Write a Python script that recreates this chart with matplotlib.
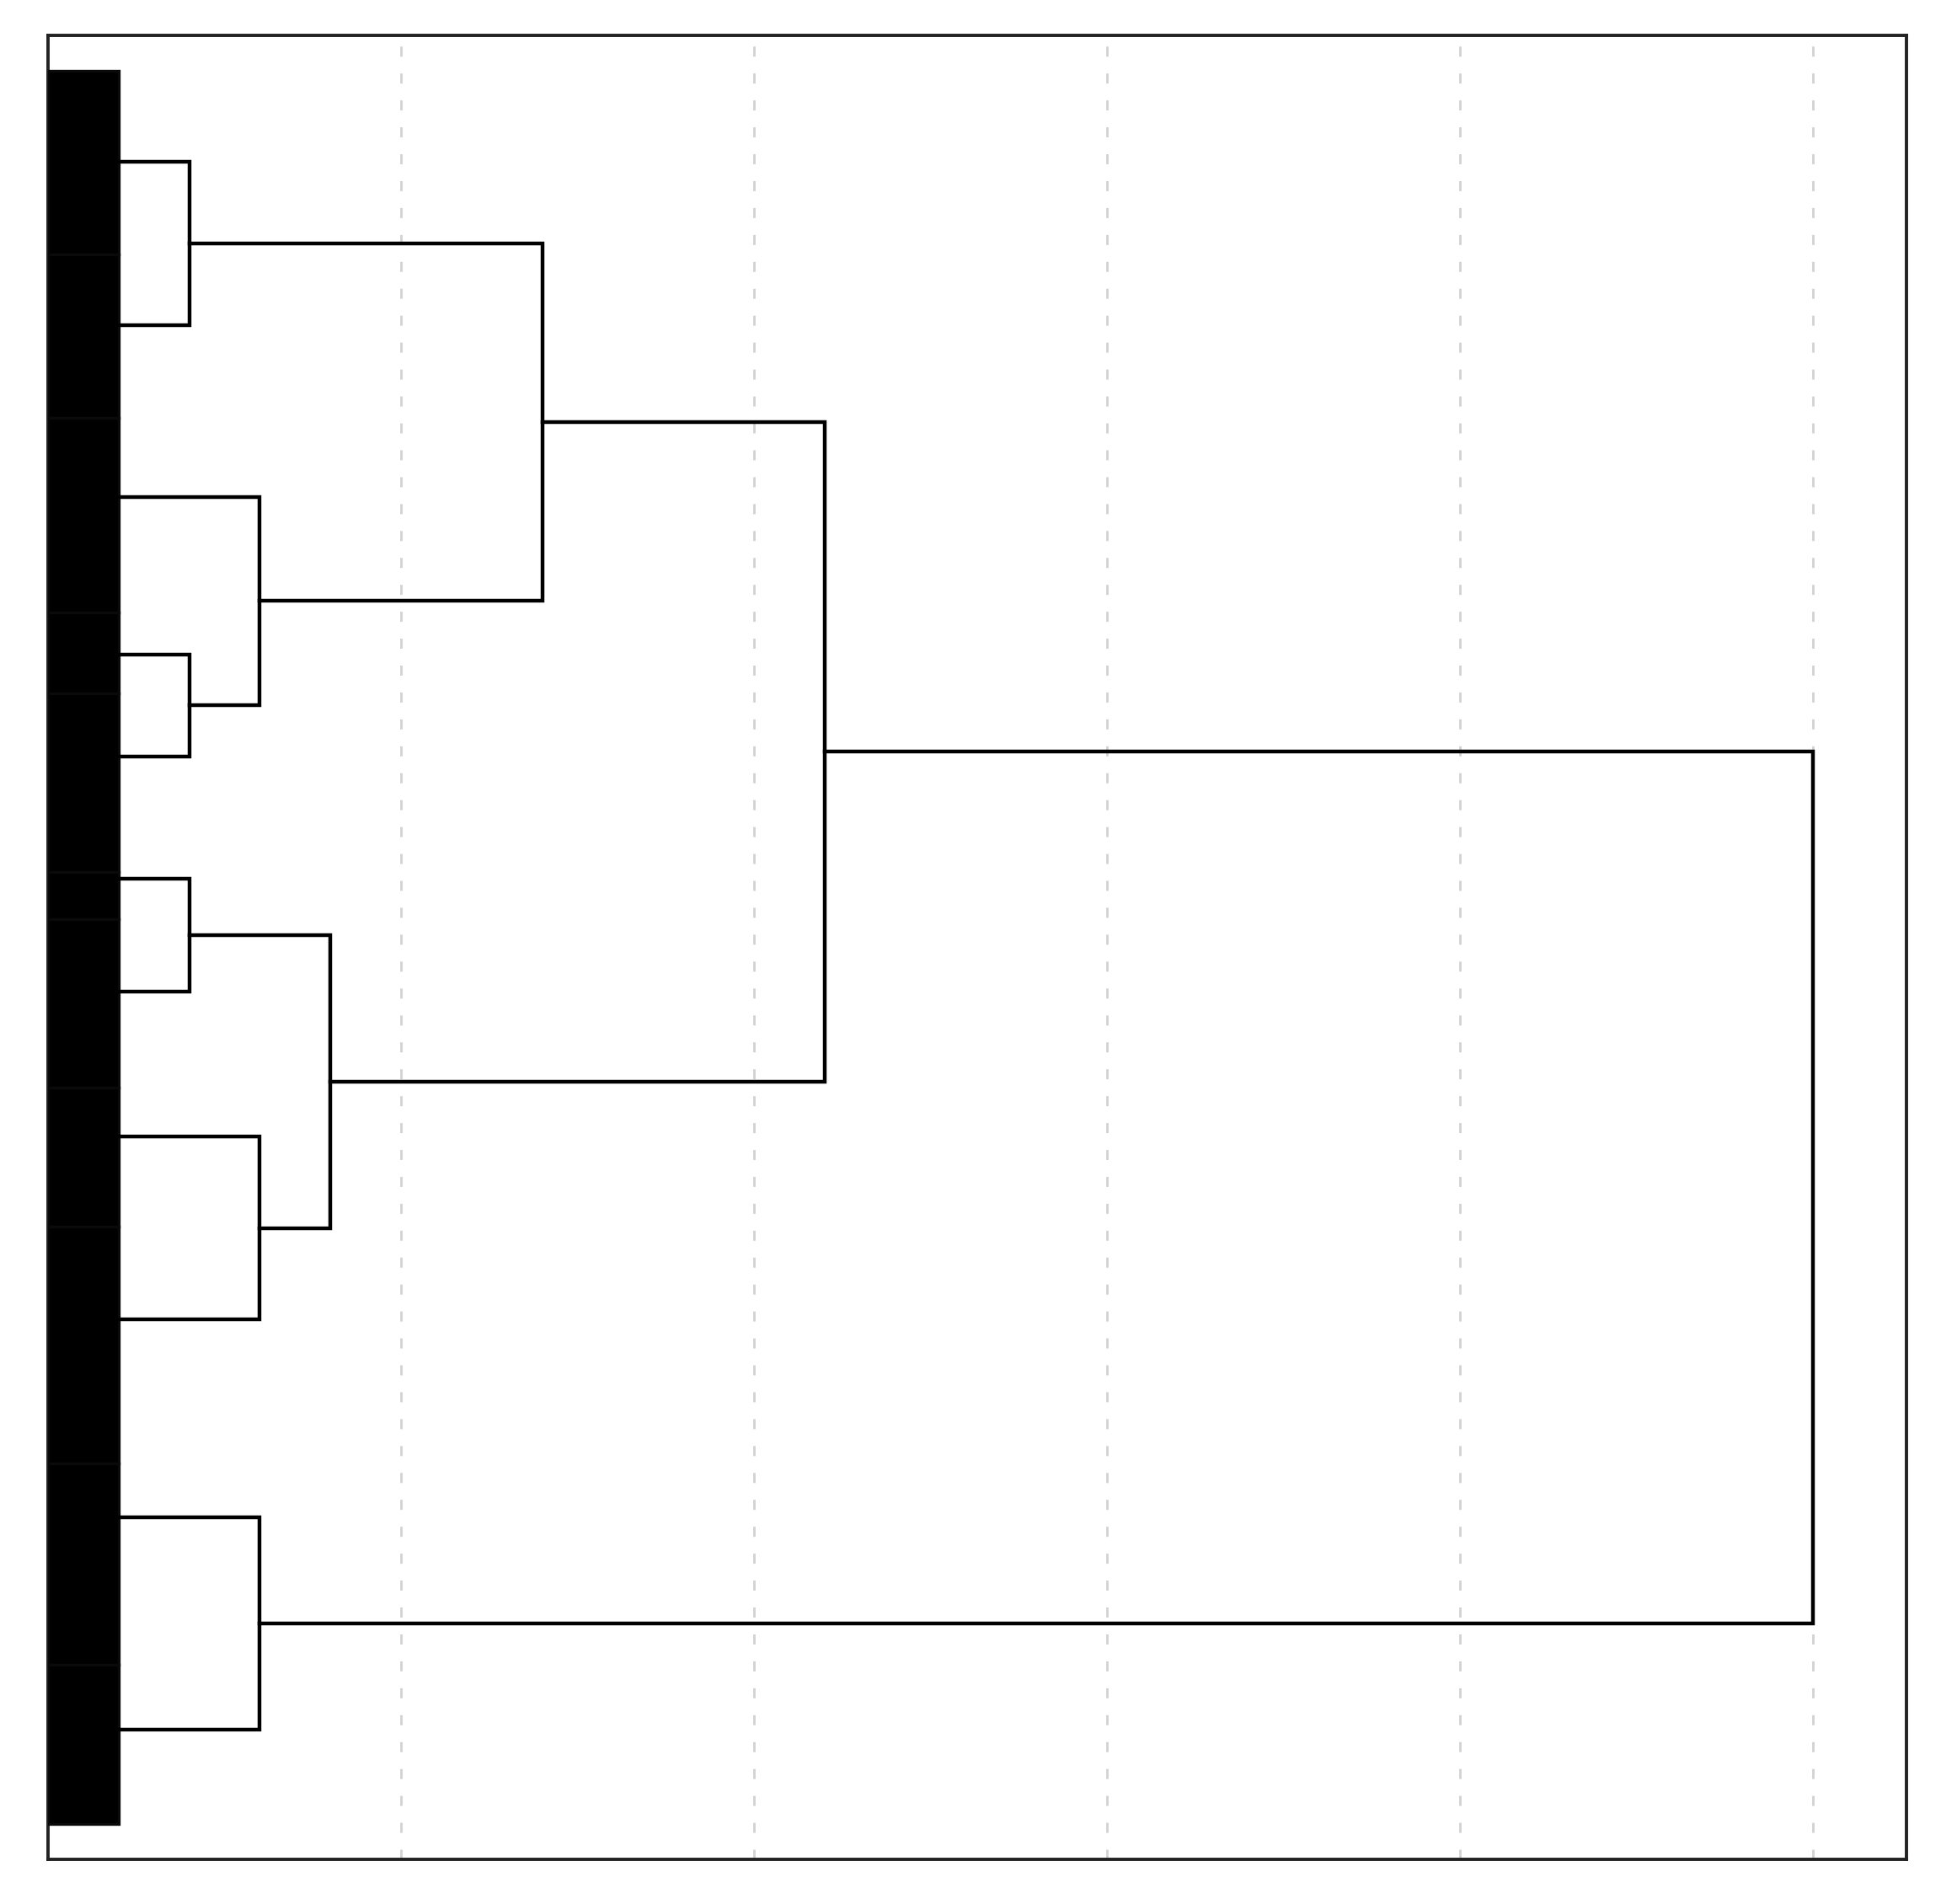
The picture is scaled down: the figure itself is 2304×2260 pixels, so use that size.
import matplotlib
matplotlib.use("Agg")
from matplotlib import pyplot as plt
import numpy as np

# leaf clusters (top to bottom), y in row units, heights in linkage distance
leaf_y = [5.2, 14.5, 24.3, 33.3, 39.1, 46.1, 52.5, 60.8, 71.2, 82.5, 94.6]
block_edges = [0, 10.5, 19.8, 30.9, 35.5, 45.7, 48.4, 58.0, 65.9, 79.4, 90.9, 100]
leaf_height = 0.2

# merges: (child a, child b, height); new nodes numbered after the leaves
merges = [
    (0, 1, 0.4),
    (3, 4, 0.4),
    (2, 12, 0.6),
    (11, 13, 1.4),
    (5, 6, 0.4),
    (7, 8, 0.6),
    (15, 16, 0.8),
    (14, 17, 2.2),
    (9, 10, 0.6),
    (18, 19, 5.0),
]

grid_ticks = [1, 2, 3, 4, 5]


def plot_dendrogram(graph_name):
    plt.rcParams['lines.scale_dashes'] = False
    fig = plt.figure(figsize=(11.52, 11.3), dpi=200)
    ax = fig.add_axes([0.0247, 0.0234, 0.9575, 0.958])

    # leaf blocks
    edges = np.array(block_edges)
    ax.barh(edges[:-1], [leaf_height] * len(leaf_y), height=np.diff(edges),
            left=0, align='edge', color='black', edgecolor='#0a0a0a',
            linewidth=1.2, zorder=3)

    # node positions
    node_y = list(leaf_y)
    node_x = [leaf_height] * len(leaf_y)
    for a, b, h in merges:
        ax.plot([node_x[a], h, h, node_x[b]], [node_y[a], node_y[a], node_y[b], node_y[b]],
                color='black', linewidth=1.6, solid_joinstyle='miter', zorder=4)
        node_y.append((node_y[a] + node_y[b]) / 2)
        node_x.append(h)

    for t in grid_ticks:
        ax.axvline(t, color='#d2d2d2', linewidth=1.0, linestyle=(0, (4.3, 7.2)), zorder=1)

    ax.set_xlim(0, 5.265)
    ax.set_ylim(102.0, -2.0)
    ax.set_xticks([])
    ax.set_yticks([])
    for s in ax.spines.values():
        s.set_linewidth(1.4)
        s.set_color('#222222')

    plt.savefig(graph_name, dpi=200)
    plt.close()


if __name__ == "__main__":
    plot_dendrogram('out.png')
